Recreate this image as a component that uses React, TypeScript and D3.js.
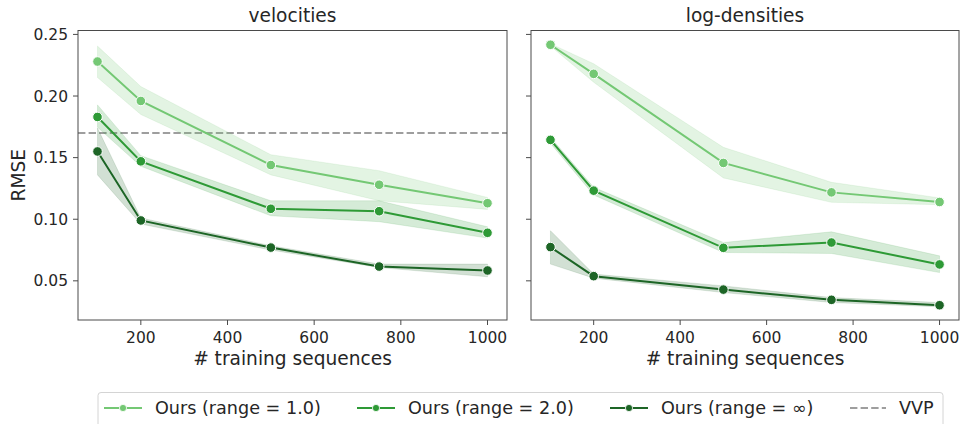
import React from 'react';
import * as d3 from 'd3';

// x values (number of training sequences)
const trainingSizes = [100, 200, 500, 750, 1000];

// velocities panel: mean and band (lower/upper) per series
const velMean1 = [0.228, 0.196, 0.144, 0.128, 0.113];
const velLo1 = [0.215, 0.185, 0.136, 0.115, 0.108];
const velHi1 = [0.2405, 0.2077, 0.1524, 0.1394, 0.1177];

const velMean2 = [0.183, 0.147, 0.1085, 0.1065, 0.089];
const velLo2 = [0.1746, 0.143, 0.1028, 0.098, 0.0847];
const velHi2 = [0.1928, 0.1516, 0.115, 0.115, 0.0939];

const velMeanInf = [0.155, 0.099, 0.077, 0.0616, 0.0584];
const velLoInf = [0.136, 0.0961, 0.075, 0.0608, 0.0533];
const velHiInf = [0.174, 0.101, 0.0785, 0.0636, 0.0636];

// log-densities panel
const logMean1 = [0.2416, 0.218, 0.1457, 0.1218, 0.114];
const logLo1 = [0.2405, 0.2112, 0.1335, 0.1137, 0.1118];
const logHi1 = [0.2425, 0.2262, 0.1584, 0.13, 0.1173];

const logMean2 = [0.1644, 0.1232, 0.0768, 0.0811, 0.0633];
const logLo2 = [0.1616, 0.1197, 0.073, 0.0722, 0.0567];
const logHi2 = [0.1665, 0.1259, 0.0811, 0.0898, 0.0703];

const logMeanInf = [0.0774, 0.0538, 0.0429, 0.0346, 0.0302];
const logLoInf = [0.0636, 0.0522, 0.0405, 0.0324, 0.0289];
const logHiInf = [0.0907, 0.0555, 0.0459, 0.0364, 0.0324];

const vvpVelocities = 0.17;

const seriesLabels = ['Ours (range = 1.0)', 'Ours (range = 2.0)', 'Ours (range = \u221e)'];
const seriesColors = ['#74c874', '#2e9a36', '#1d6526'];
const xTicks = [200, 400, 600, 800, 1000];
const yTicks = [0.05, 0.1, 0.15, 0.2, 0.25];

const FONT = '"DejaVu Sans", sans-serif';
const TEXT = '#262626';
const SPINE = '#4a4a4a';

type Series = { mean: number[]; lo: number[]; hi: number[] };

const panels: { title: string; series: Series[]; vvp: number | null; left: number; right: number }[] = [
  {
    title: 'velocities',
    series: [
      { mean: velMean1, lo: velLo1, hi: velHi1 },
      { mean: velMean2, lo: velLo2, hi: velHi2 },
      { mean: velMeanInf, lo: velLoInf, hi: velHiInf },
    ],
    vvp: vvpVelocities,
    left: 78,
    right: 507,
  },
  {
    title: 'log-densities',
    series: [
      { mean: logMean1, lo: logLo1, hi: logHi1 },
      { mean: logMean2, lo: logLo2, hi: logHi2 },
      { mean: logMeanInf, lo: logLoInf, hi: logHiInf },
    ],
    vvp: null,
    left: 531,
    right: 959,
  },
];

const top = 30.5;
const bottom = 320;

// shared y domain, matplotlib-style 5% margins
const allVals = panels.flatMap(p => p.series.flatMap(s => [...s.lo, ...s.hi]));
const yMin = d3.min(allVals)!;
const yMax = d3.max(allVals)!;
const yPad = (yMax - yMin) * 0.05;
const y = d3.scaleLinear().domain([yMin - yPad, yMax + yPad]).range([bottom, top]);

const xPad = (d3.max(trainingSizes)! - d3.min(trainingSizes)!) * 0.05;

const Panel: React.FC<{ p: typeof panels[number]; showYLabels: boolean }> = ({ p, showYLabels }) => {
  const x = d3
    .scaleLinear()
    .domain([d3.min(trainingSizes)! - xPad, d3.max(trainingSizes)! + xPad])
    .range([p.left, p.right]);
  const line = d3.line<number>().x((_, i) => x(trainingSizes[i])).y(d => y(d));
  const clipId = `clip-${p.title}`;
  return (
    <g>
      <defs>
        <clipPath id={clipId}>
          <rect x={p.left} y={top} width={p.right - p.left} height={bottom - top} />
        </clipPath>
      </defs>
      <g clipPath={`url(#${clipId})`}>
        {p.vvp !== null && (
          <line
            x1={p.left}
            x2={p.right}
            y1={y(p.vvp)}
            y2={y(p.vvp)}
            stroke="#9e9e9e"
            strokeWidth={2}
            strokeDasharray="7.4,3.2"
          />
        )}
        {p.series.map((s, k) => {
          const area = d3
            .area<number>()
            .x((_, i) => x(trainingSizes[i]))
            .y0((_, i) => y(s.lo[i]))
            .y1((_, i) => y(s.hi[i]));
          return (
            <g key={k}>
              <path d={area(s.mean) || ''} fill={seriesColors[k]} fillOpacity={0.2} stroke={seriesColors[k]} strokeOpacity={0.12} />
              <path d={line(s.mean) || ''} fill="none" stroke={seriesColors[k]} strokeWidth={2} />
              {s.mean.map((v, i) => (
                <circle key={i} cx={x(trainingSizes[i])} cy={y(v)} r={4.8} fill={seriesColors[k]} stroke="#fff" strokeWidth={1} />
              ))}
            </g>
          );
        })}
      </g>
      <rect x={p.left} y={top} width={p.right - p.left} height={bottom - top} fill="none" stroke={SPINE} strokeWidth={1} />
      {xTicks.map(t => (
        <g key={t}>
          <line x1={x(t)} x2={x(t)} y1={bottom} y2={bottom + 5} stroke={SPINE} />
          <text x={x(t)} y={343} textAnchor="middle" fontSize={15.5} fill={TEXT}>
            {t}
          </text>
        </g>
      ))}
      {yTicks.map(t => (
        <g key={t}>
          <line x1={p.left - 5} x2={p.left} y1={y(t)} y2={y(t)} stroke={SPINE} />
          {showYLabels && (
            <text x={p.left - 10} y={y(t)} dy="0.36em" textAnchor="end" fontSize={15.5} fill={TEXT}>
              {d3.format('.2f')(t)}
            </text>
          )}
        </g>
      ))}
      <text x={(p.left + p.right) / 2} y={21.5} textAnchor="middle" fontSize={18.6} fill={TEXT}>
        {p.title}
      </text>
      <text x={(p.left + p.right) / 2} y={365} textAnchor="middle" fontSize={18.6} fill={TEXT}>
        # training sequences
      </text>
    </g>
  );
};

const legendX = [104, 357, 610];
const Legend: React.FC = () => {
  const cy = 408;
  return (
    <g>
      <rect x={98} y={392.5} width={845} height={40} rx={3} fill="#fff" fillOpacity={0.8} stroke="#d4d4d4" strokeWidth={1} />
      {seriesLabels.map((label, k) => (
        <g key={label}>
          <line x1={legendX[k]} x2={legendX[k] + 38} y1={cy} y2={cy} stroke={seriesColors[k]} strokeWidth={2} />
          <circle cx={legendX[k] + 19} cy={cy} r={3.6} fill={seriesColors[k]} stroke="#fff" strokeWidth={0.8} />
          <text x={legendX[k] + 51} y={cy} dy="0.36em" fontSize={17.6} fill={TEXT}>
            {label}
          </text>
        </g>
      ))}
      <line x1={850} x2={886} y1={cy} y2={cy} stroke="#9e9e9e" strokeWidth={2} strokeDasharray="7.4,3.2" />
      <text x={899} y={cy} dy="0.36em" fontSize={17.6} fill={TEXT}>
        VVP
      </text>
    </g>
  );
};

export default function App() {
  return (
    <div style={{ position: 'absolute', left: 0, top: 0 }}>
      <svg width={962} height={424} style={{ display: 'block', fontFamily: FONT, background: '#fff' }}>
        <rect width={962} height={424} fill="#fff" />
        <Panel p={panels[0]} showYLabels={true} />
        <Panel p={panels[1]} showYLabels={false} />
        <text transform={`translate(25,${(top + bottom) / 2}) rotate(-90)`} textAnchor="middle" fontSize={18.6} fill={TEXT}>
          RMSE
        </text>
        <Legend />
      </svg>
    </div>
  );
}
